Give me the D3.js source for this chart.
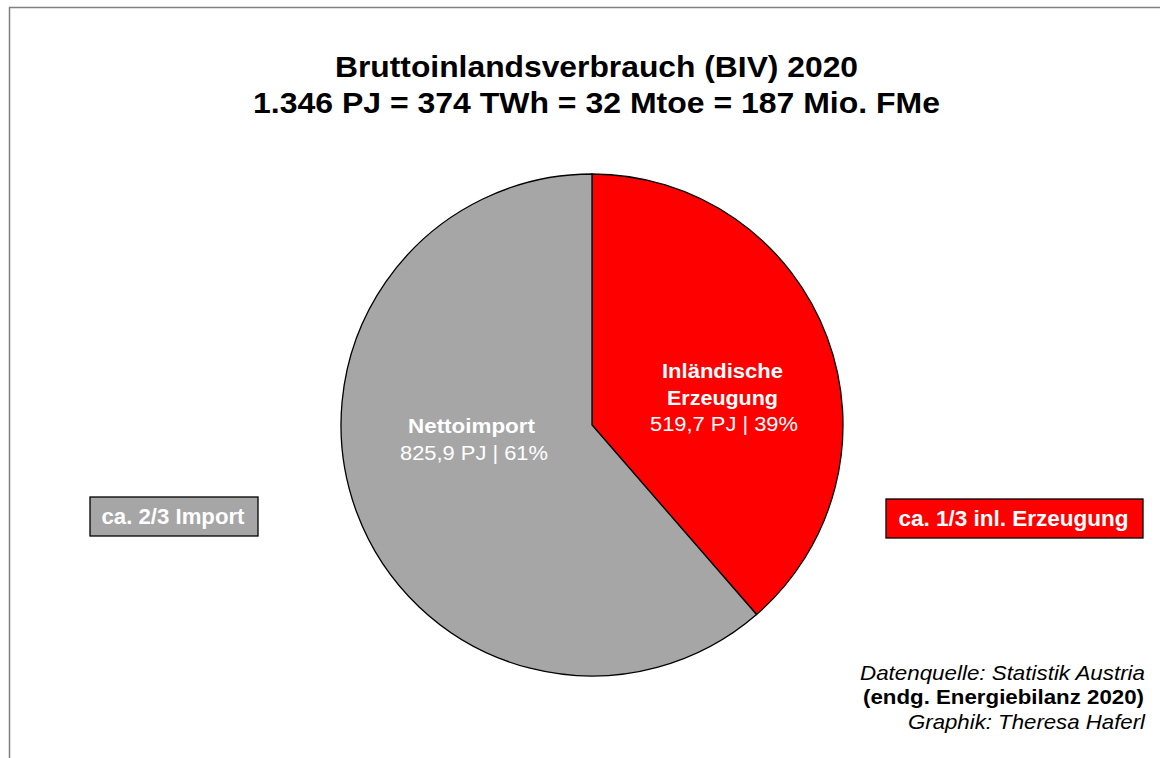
<!DOCTYPE html>
<html>
<head>
<meta charset="utf-8">
<script src="https://cdn.jsdelivr.net/npm/d3@7"></script>
<style>
    body { margin: 0; background: #fff; }
    svg { font-family: "Liberation Sans", Arial, sans-serif; }
</style>
</head>
<body>
<svg id="canvas"></svg>
<script>
// data
let categories = ["Inländische Erzeugung", "Nettoimport"]
let labelLines = [["Inländische", "Erzeugung"], ["Nettoimport"]]
let valuesPJ = [519.7, 825.9]
let shares = ["39%", "61%"]
let colors = ["#ff0000", "#a6a6a6"]
let boxTexts = ["ca. 2/3 Import", "ca. 1/3 inl. Erzeugung"]
let titleLines = ["Bruttoinlandsverbrauch (BIV) 2020", "1.346 PJ = 374 TWh = 32 Mtoe = 187 Mio. FMe"]
let sourceLines = ["Datenquelle: Statistik Austria", "(endg. Energiebilanz 2020)", "Graphik: Theresa Haferl"]

let width = 1160
let height = 758
let cx = 592
let cy = 425
let radius = 251

let canvas = d3.select("#canvas")
    .attr("width", width)
    .attr("height", height)

// the original text is rendered a bit wider than Arial, so stretch to measured widths
let addText = (parent, str, x, y, size, len, opts = {}) => {
    let t = parent.append("text")
        .attr("x", x)
        .attr("y", y)
        .attr("text-anchor", opts.anchor || "middle")
        .attr("font-size", size)
        .attr("font-weight", opts.bold ? "bold" : "normal")
        .attr("font-style", opts.italic ? "italic" : "normal")
        .attr("fill", opts.fill || "#000")
        .text(str)
    if (len) {
        t.attr("textLength", len).attr("lengthAdjust", "spacingAndGlyphs")
    }
    return t
}

// frame (only top and left visible in the crop)
canvas.append("path")
    .attr("d", "M9.5," + height + " V7.5 H" + width)
    .attr("fill", "none")
    .attr("stroke", "#808080")
    .attr("stroke-width", 1.5)

// title
addText(canvas, titleLines[0], 596.5, 77, 29, 523, { bold: true })
addText(canvas, titleLines[1], 596.5, 113, 29, 687, { bold: true })

let pie = d3.pie().sort(null).value(d => d)
let arcs = pie(valuesPJ)

let arc = d3.arc().innerRadius(0).outerRadius(radius)

let g = canvas.append("g")
    .attr("transform", "translate(" + cx + "," + cy + ")")

g.selectAll("path")
    .data(arcs)
    .enter()
    .append("path")
    .attr("d", arc)
    .attr("fill", (d, i) => colors[i])
    .attr("stroke", "#000")
    .attr("stroke-width", 1.3)

// slice labels
let fmt = v => d3.format(".1f")(v).replace(".", ",")

addText(g, labelLines[0][0], 130.5, -47, 20, 121, { bold: true, fill: "#fff" })
addText(g, labelLines[0][1], 130.5, -20, 20, 111, { bold: true, fill: "#fff" })
addText(g, fmt(valuesPJ[0]) + " PJ | " + shares[0], 132, 6, 20, 148, { fill: "#fff" })

addText(g, labelLines[1][0], -120.5, 8, 20, 127, { bold: true, fill: "#fff" })
addText(g, fmt(valuesPJ[1]) + " PJ | " + shares[1], -118, 35, 20, 148, { fill: "#fff" })

// side boxes
let boxes = [
    { x: 90, y: 497, w: 168, h: 39, fill: colors[1], text: boxTexts[0], len: 143 },
    { x: 886, y: 499, w: 257, h: 39, fill: colors[0], text: boxTexts[1], len: 230 }
]

boxes.forEach(b => {
    canvas.append("rect")
        .attr("x", b.x)
        .attr("y", b.y)
        .attr("width", b.w)
        .attr("height", b.h)
        .attr("fill", b.fill)
        .attr("stroke", "#000")
        .attr("stroke-width", 1.3)
    addText(canvas, b.text, b.x + b.w / 2 - 1, b.y + 27, 22, b.len, { bold: true, fill: "#fff" })
})

// source note
addText(canvas, sourceLines[0], 1145, 680, 21, 285, { anchor: "end", italic: true })
addText(canvas, sourceLines[1], 1144, 704, 21, 281, { anchor: "end", bold: true })
addText(canvas, sourceLines[2], 1145, 729, 21, 237, { anchor: "end", italic: true })
</script>
</body>
</html>
